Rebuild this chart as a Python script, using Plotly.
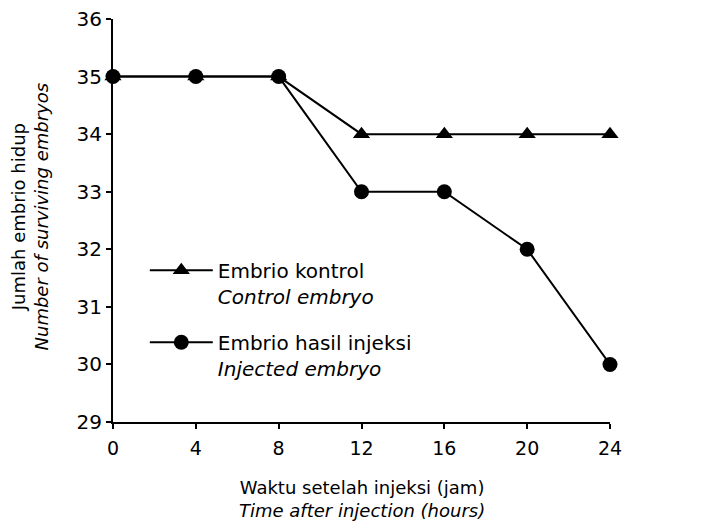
import plotly.graph_objects as go

hours = [0, 4, 8, 12, 16, 20, 24]
control = [35, 35, 35, 34, 34, 34, 34]
injected = [35, 35, 35, 33, 33, 32, 30]
x_ticks = [0, 4, 8, 12, 16, 20, 24]
y_ticks = [29, 30, 31, 32, 33, 34, 35, 36]

FONT = "DejaVu Sans"
# figure sits 8px in from the page corner (body margin)
W, H = 713, 513
ML, MR, MT, MB = 105, 111, 11, 99

fig = go.Figure()
fig.add_trace(go.Scatter(
    x=hours, y=control, mode="lines+markers",
    name="Embrio kontrol<br><i>Control embryo</i>",
    line=dict(color="black", width=2),
    marker=dict(symbol="triangle-up", size=15, color="black"),
    cliponaxis=False, legendgroup="a"))
fig.add_trace(go.Scatter(
    x=hours, y=injected, mode="lines+markers",
    name="Embrio hasil injeksi<br><i>Injected embryo</i>",
    line=dict(color="black", width=2),
    marker=dict(symbol="circle", size=15, color="black"),
    cliponaxis=False, legendgroup="b"))

fig.update_layout(
    width=W, height=H,
    margin=dict(l=ML, r=MR, t=MT, b=MB),
    paper_bgcolor="white", plot_bgcolor="white",
    font=dict(family=FONT, color="black", size=18),
    showlegend=True,
    legend=dict(x=0.064, y=0.425, xanchor="left", yanchor="top",
                bgcolor="rgba(0,0,0,0)", valign="top",
                itemwidth=63, tracegroupgap=17,
                font=dict(size=20, family=FONT)),
    xaxis=dict(range=[0, 24], tickvals=x_ticks, showgrid=False, zeroline=False,
               showline=True, linecolor="black", linewidth=2, automargin=False,
               ticks="outside", ticklen=5, tickwidth=2, tickcolor="black",
               ticklabelstandoff=3, ticklabeloverflow="allow",
               tickfont=dict(size=19)),
    yaxis=dict(range=[29, 36], tickvals=y_ticks, showgrid=False, zeroline=False,
               showline=True, linecolor="black", linewidth=2, automargin=False,
               ticks="outside", ticklen=5, tickwidth=2, tickcolor="black",
               ticklabeloverflow="allow",
               tickfont=dict(size=20)),
    annotations=[
        dict(text="Waktu setelah injeksi (jam)<br><i>Time after injection (hours)</i>",
             xref="paper", yref="paper", x=0.5, y=-0.131, xanchor="center", yanchor="top",
             showarrow=False, font=dict(size=18)),
        dict(text="Jumlah embrio hidup<br><i>Number of surviving embryos</i>",
             xref="paper", yref="paper", x=-0.167, y=0.51, xanchor="center", yanchor="middle",
             textangle=-90, showarrow=False, font=dict(size=18)),
    ],
)

fig.write_html("out.html")
